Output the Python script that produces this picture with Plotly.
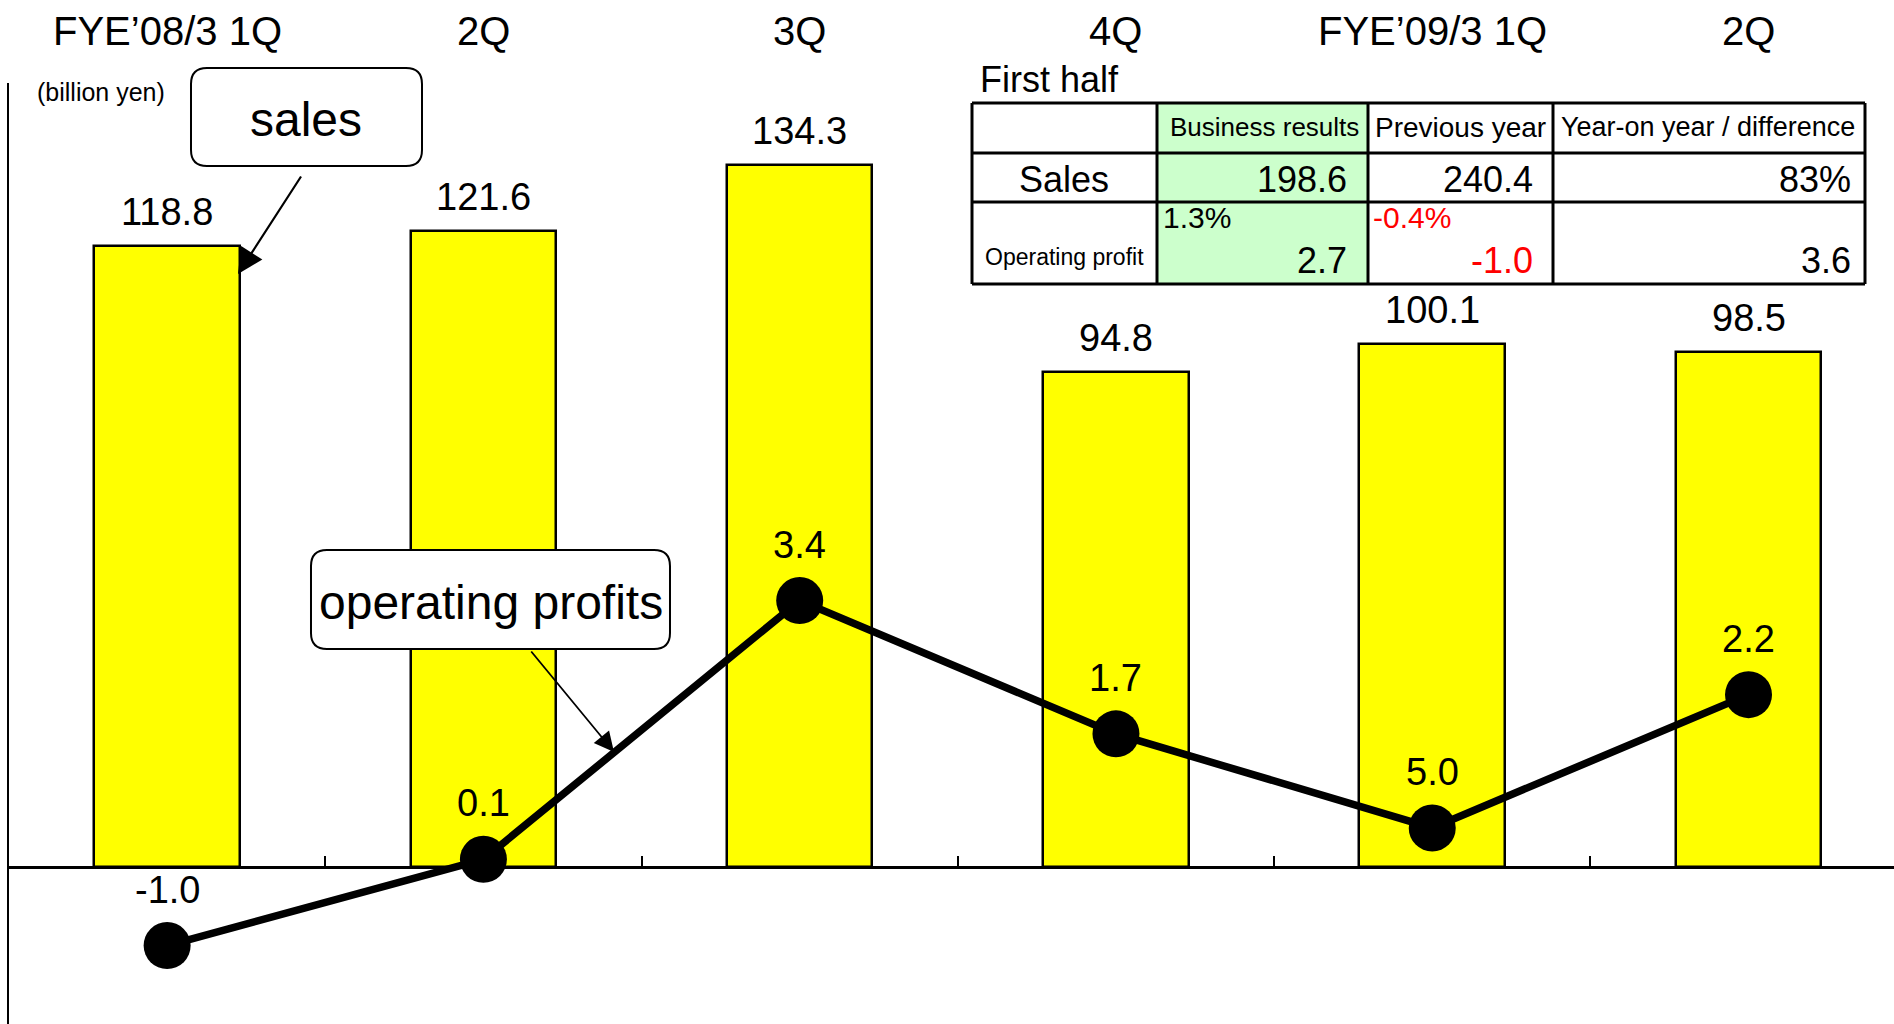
import plotly.graph_objects as go

# ---------------- data ----------------
categories = ["FYE\u201908/3 1Q", "2Q", "3Q", "4Q", "FYE\u201909/3 1Q", "2Q"]
sales = [118.8, 121.6, 134.3, 94.8, 100.1, 98.5]
op_profit = [-1.0, 0.1, 3.4, 1.7, 0.5, 2.2]
op_profit_labels = ["-1.0", "0.1", "3.4", "1.7", "5.0", "2.2"]  # as printed in the original

table_title = "First half"
table_header = ["", "Business results", "Previous year", "Year-on year / difference"]
table_sales = ["Sales", "198.6", "240.4", "83%"]
table_op = ["Operating profit", "2.7", "-1.0", "3.6"]
table_op_margin = ["", "1.3%", "-0.4%", ""]

# ---------------- layout geometry (pixels) ----------------
W, H = 1894, 1024
ML, MR, MT, MB = 9, 0, 83, 0
PW, PH = W - ML - MR, H - MT - MB
FONT = "Liberation Sans, Arial, sans-serif"


def px(x):
    return (x - ML) / PW


def py(y):
    return (H - MB - y) / PH


idx = list(range(len(categories)))

fig = go.Figure()
fig.add_trace(go.Bar(
    x=idx, y=sales, width=0.46,
    marker=dict(color="#FFFF00", line=dict(color="black", width=2.5)),
    hoverinfo="skip", showlegend=False,
))
fig.add_trace(go.Scatter(
    x=idx, y=op_profit, yaxis="y2", mode="lines+markers",
    line=dict(color="black", width=7.5),
    marker=dict(color="black", size=47),
    hoverinfo="skip", showlegend=False,
))

ann = []
# category labels on top
for i, c in enumerate(categories):
    ann.append(dict(x=i, y=1, xref="x", yref="paper", yshift=52, yanchor="middle",
                    text=c, showarrow=False, font=dict(size=40, color="black")))
# sales labels
for i, v in enumerate(sales):
    ann.append(dict(x=i, y=v, xref="x", yref="y", yshift=34, yanchor="middle",
                    text=f"{v:.1f}", showarrow=False, font=dict(size=38, color="black")))
# operating profit labels
for i, (v, t) in enumerate(zip(op_profit, op_profit_labels)):
    ann.append(dict(x=i, y=v, xref="x", yref="y2", yshift=56, yanchor="middle",
                    text=t, showarrow=False, font=dict(size=38, color="black")))

# unit label
ann.append(dict(x=px(35), y=py(92), xref="paper", yref="paper", xanchor="left", yanchor="middle",
                text="(billion yen)", showarrow=False, font=dict(size=25, color="black")))

# callout texts
ann.append(dict(x=px(306), y=py(119), xref="paper", yref="paper", xanchor="center", yanchor="middle",
                text="sales", showarrow=False, font=dict(size=48, color="black")))
ann.append(dict(x=px(491), y=py(602), xref="paper", yref="paper", xanchor="center", yanchor="middle",
                text="operating profits", showarrow=False, font=dict(size=48, color="black")))
# callout arrows
ann.append(dict(x=px(238), y=py(274), xref="paper", yref="paper", text="", showarrow=True,
                ax=64, ay=-99, arrowhead=2, arrowsize=2.3, arrowwidth=2.2, arrowcolor="black"))
ann.append(dict(x=px(614), y=py(752), xref="paper", yref="paper", text="", showarrow=True,
                ax=-84, ay=-102, arrowhead=2, arrowsize=2.2, arrowwidth=1.8, arrowcolor="black"))

# table texts
ann.append(dict(x=px(978), y=py(80), xref="paper", yref="paper", xanchor="left", yanchor="middle",
                text=table_title, showarrow=False, font=dict(size=36, color="black")))
header_cx = [1064, 1264, 1460, 1708]
header_sz = [26, 26, 28, 27]
for cx, t, s in zip(header_cx, table_header, header_sz):
    if t:
        ann.append(dict(x=px(cx), y=py(127), xref="paper", yref="paper", xanchor="center", yanchor="middle",
                        text=t, showarrow=False, font=dict(size=s, color="black")))
right_x = [None, 1349, 1535, 1853]
ann.append(dict(x=px(1064), y=py(179), xref="paper", yref="paper", xanchor="center", yanchor="middle",
                text=table_sales[0], showarrow=False, font=dict(size=36, color="black")))
for rx, t in zip(right_x[1:], table_sales[1:]):
    ann.append(dict(x=px(rx), y=py(179), xref="paper", yref="paper", xanchor="right", yanchor="middle",
                    text=t, showarrow=False, font=dict(size=36, color="black")))
ann.append(dict(x=px(1064), y=py(257), xref="paper", yref="paper", xanchor="center", yanchor="middle",
                text=table_op[0], showarrow=False, font=dict(size=23, color="black")))
for rx, t in zip(right_x[1:], table_op[1:]):
    col = "red" if t.startswith("-") else "black"
    ann.append(dict(x=px(rx), y=py(260), xref="paper", yref="paper", xanchor="right", yanchor="middle",
                    text=t, showarrow=False, font=dict(size=36, color=col)))
left_x = [None, 1161, 1371, None]
for lx, t in zip(left_x, table_op_margin):
    if t:
        col = "red" if t.startswith("-") else "black"
        ann.append(dict(x=px(lx), y=py(217), xref="paper", yref="paper", xanchor="left", yanchor="middle",
                        text=t, showarrow=False, font=dict(size=30, color=col)))

shapes = []


def rounded(x0, y0, x1, y1, r):
    pts = [
        ("M", [(x0 + r, y0)]), ("L", [(x1 - r, y0)]), ("Q", [(x1, y0), (x1, y0 + r)]),
        ("L", [(x1, y1 - r)]), ("Q", [(x1, y1), (x1 - r, y1)]),
        ("L", [(x0 + r, y1)]), ("Q", [(x0, y1), (x0, y1 - r)]),
        ("L", [(x0, y0 + r)]), ("Q", [(x0, y0), (x0 + r, y0)]),
    ]
    s = ""
    for cmd, ps in pts:
        s += cmd + " " + " ".join(f"{px(a):.5f},{py(b):.5f}" for a, b in ps) + " "
    return s + "Z"


shapes.append(dict(type="path", xref="paper", yref="paper", path=rounded(191, 68, 422, 166, 16),
                   fillcolor="white", line=dict(color="black", width=2), layer="above"))
shapes.append(dict(type="path", xref="paper", yref="paper", path=rounded(311, 550, 670, 649, 16),
                   fillcolor="white", line=dict(color="black", width=2), layer="above"))

# table grid
tx = [972, 1157, 1368, 1553, 1865]
ty = [103, 153, 202, 284]
shapes.append(dict(type="rect", xref="paper", yref="paper", x0=px(tx[0]), x1=px(tx[-1]),
                   y0=py(ty[0]), y1=py(ty[-1]), fillcolor="white", line=dict(width=0), layer="above"))
shapes.append(dict(type="rect", xref="paper", yref="paper", x0=px(tx[1]), x1=px(tx[2]),
                   y0=py(ty[0]), y1=py(ty[-1]), fillcolor="#CCFFCC", line=dict(width=0), layer="above"))
for yv in ty:
    shapes.append(dict(type="line", xref="paper", yref="paper", x0=px(tx[0]), x1=px(tx[-1]),
                       y0=py(yv), y1=py(yv), line=dict(color="black", width=3), layer="above"))
for xv in tx:
    shapes.append(dict(type="line", xref="paper", yref="paper", x0=px(xv), x1=px(xv),
                       y0=py(ty[0]), y1=py(ty[-1]), line=dict(color="black", width=3), layer="above"))

fig.update_layout(
    width=W, height=H, autosize=False,
    margin=dict(l=ML, r=MR, t=MT, b=MB, pad=0),
    paper_bgcolor="white", plot_bgcolor="white",
    font=dict(family=FONT, color="black"),
    bargap=0,
    xaxis=dict(range=[-0.5, 5.46], anchor="free", position=1 / 6,
               showline=True, linecolor="black", linewidth=3,
               ticks="inside", ticklen=10, tickwidth=2, tickcolor="black",
               tickmode="array", tickvals=[i + 0.5 for i in idx[:-1]],
               showticklabels=False, showgrid=False, zeroline=False, fixedrange=True),
    yaxis=dict(range=[-30, 150], showline=True, linecolor="black", linewidth=2,
               ticks="", showticklabels=False, showgrid=False, zeroline=False, fixedrange=True),
    yaxis2=dict(range=[-2, 10], overlaying="y", visible=False, fixedrange=True),
    annotations=ann, shapes=shapes, showlegend=False,
)

fig.write_html("out.html", config={"displayModeBar": False})
